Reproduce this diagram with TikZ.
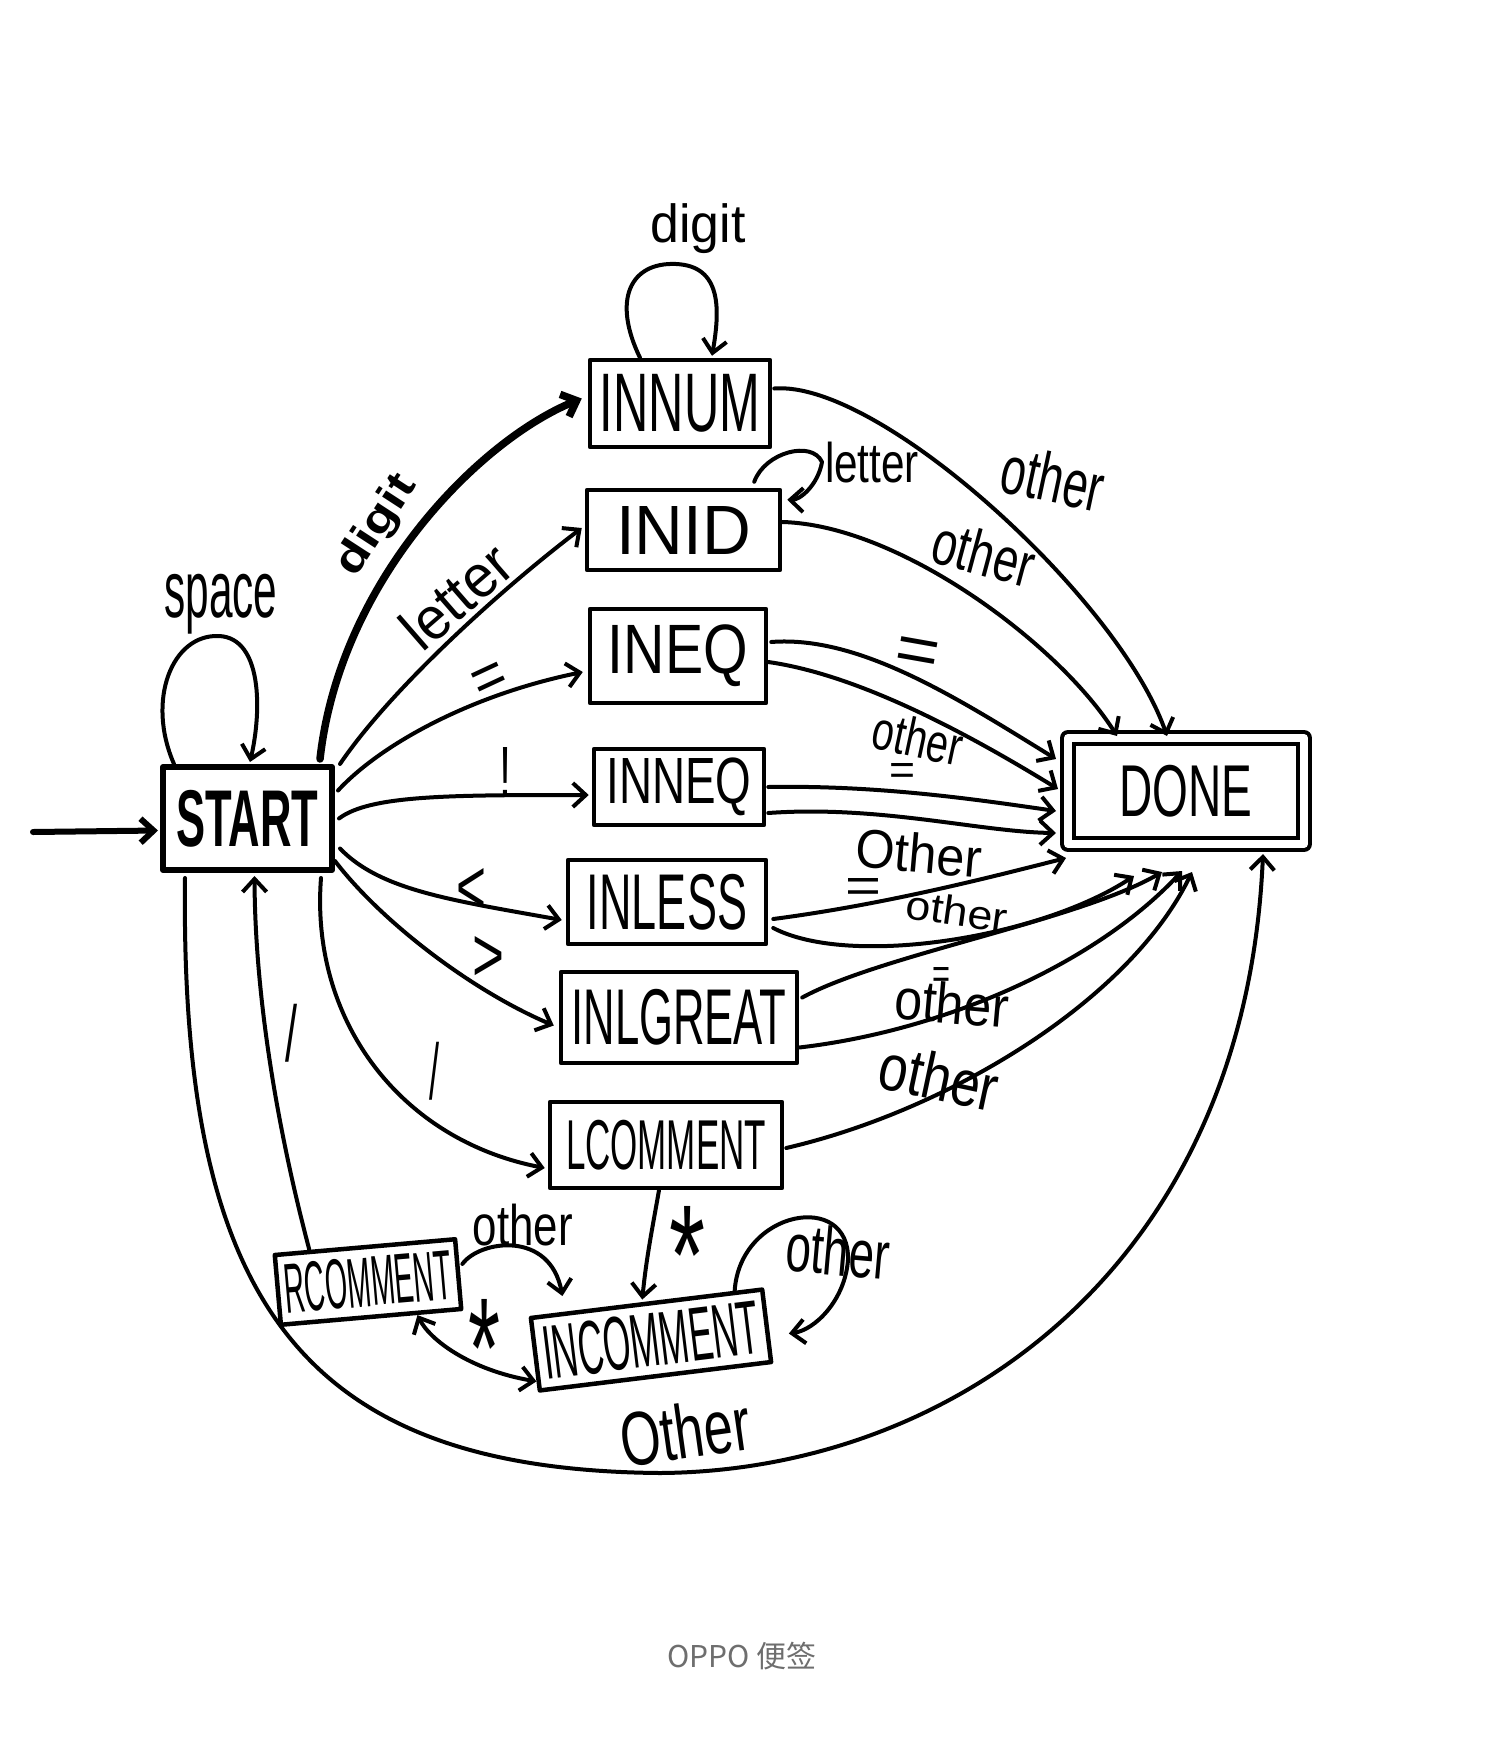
\documentclass[tikz,border=0pt]{standalone}
\usepackage{fontspec}
\usepackage{graphicx}
\setmainfont{Liberation Sans}
\newfontfamily\cjkfont{Noto Sans CJK SC}
\usetikzlibrary{arrows.meta,calc}
\newcommand{\hw}[3]{\resizebox*{#1pt}{#2pt}{#3}}
\definecolor{footgray}{HTML}{6E6E6E}
\begin{document}
\begin{tikzpicture}[x=1pt,y=-1pt,
  box/.style={draw,line width=4.5pt,inner sep=0pt,line join=round},
  lab/.style={inner sep=0pt},
  link/.style={line width=4pt,line cap=round,line join=round,-{Straight Barb[length=13pt,width=24pt]}},
  bilink/.style={line width=4pt,line cap=round,line join=round,{Straight Barb[length=13pt,width=24pt]}-{Straight Barb[length=13pt,width=24pt]}},
  heavy/.style={link,line width=7.5pt},
]
\fill[white] (0,0) rectangle (1484,1737);
\useasboundingbox (0,0) rectangle (1484,1737);

% states
\node[box,line width=6pt,minimum width=169pt,minimum height=103pt] (start) at (247.5,818.5) {\hw{142}{57}{\bfseries START}};
\node[box,minimum width=180pt,minimum height=87pt] (innum) at (680,403.5) {\hw{160}{58}{INNUM}};
\node[box,minimum width=193pt,minimum height=80pt] (inid) at (683.5,530) {\hw{135}{48}{INID}};
\node[box,minimum width=176pt,minimum height=94pt] (ineq) at (678,656) {\hw{140}{62}{INEQ}};
\node[box,minimum width=170pt,minimum height=76pt] (inneq) at (679,787) {\hw{145}{58}{INNEQ}};
\node[box,minimum width=198pt,minimum height=84pt] (inless) at (667,902) {\hw{160}{56}{INLESS}};
\node[box,minimum width=236pt,minimum height=91pt] (inlgreat) at (679,1017.5) {\hw{215}{56}{INLGREAT}};
\node[box,minimum width=232pt,minimum height=86pt] (lcomment) at (666,1145) {\hw{200}{50}{LCOMMENT}};
\node[box,minimum width=181pt,minimum height=70pt,rotate=5] (rcomment) at (368,1282) {\hw{168}{50}{RCOMMENT}};
\node[box,minimum width=233pt,minimum height=73pt,rotate=7] (incomment) at (651,1340) {\hw{218}{54}{INCOMMENT}};
\node[box,double,double distance=8pt,line width=4pt,minimum width=236pt,minimum height=106pt] (done) at (1186,791) {\hw{133}{52}{DONE}};

% labels
\node[lab] (lspace) at (221,604) {\hw{113}{60}{space}};
\node[lab,rotate=57] (ldigit) at (377,526) {\hw{112}{40}{\bfseries digit}};
\node[lab,rotate=41] (lletter) at (456,596) {\hw{126}{44}{letter}};
\node[lab,rotate=25,anchor=north] (leqa) at (484,668) {\hw{34}{30}{=}};
\node[lab] (lneq) at (505,772) {\hw{12}{50}{!}};
\node[lab,anchor=north] (lless) at (471,868) {\hw{30}{45}{<}};
\node[lab,anchor=north] (lgreat) at (488,936) {\hw{32}{45}{>}};
\node[lab] (lslasha) at (434,1071) {\hw{10}{58}{/}};
\node[lab] (lslashb) at (291,1033) {\hw{12}{58}{/}};
\node[lab] (ldigitb) at (698,229) {\hw{95}{50}{digit}};
\node[lab] (lletterb) at (872,463) {\hw{94}{41}{letter}};
\node[lab,rotate=-12] (loa) at (1053,478) {\hw{103}{50}{other}};
\node[lab,rotate=-15] (lob) at (984,553) {\hw{103}{46}{other}};
\node[lab,rotate=-10,anchor=north] (leqb) at (920,640) {\hw{44}{33}{=}};
\node[lab,rotate=-12] (loc) at (918,738) {\hw{90}{40}{other}};
\node[lab,anchor=north] (leqc) at (902,763) {\hw{26}{21}{=}};
\node[lab,rotate=-5] (lod) at (919,853) {\hw{126}{40}{Other}};
\node[lab,anchor=north] (leqd) at (863,878) {\hw{36}{24}{=}};
\node[lab,rotate=-8] (loe) at (957,911) {\hw{102}{30}{other}};
\node[lab,anchor=north] (leqe) at (941,967) {\hw{18}{21}{=}};
\node[lab,rotate=-5] (lof) at (952,1003) {\hw{114}{42}{other}};
\node[lab,rotate=-12] (log) at (939,1077) {\hw{120}{48}{other}};
\node[lab,anchor=north] (lstara) at (687,1206) {\hw{36}{98}{*}};
\node[lab] (loh) at (523,1225) {\hw{100}{42}{other}};
\node[lab,rotate=-5] (loi) at (838,1251) {\hw{104}{50}{other}};
\node[lab,anchor=north] (lstarb) at (484,1299) {\hw{32}{98}{*}};
\node[lab,rotate=8] (loj) at (685,1431) {\hw{130}{56}{Other}};
\node[lab] (footer) at (742,1656) {\cjkfont\fontsize{30pt}{36pt}\selectfont\color{footgray}OPPO 便签};

% entry
\coordinate (entry) at (33,832);
\draw[link,line width=6pt] (entry) -- ($(start.west)+(-2,12)$);

% from START
\draw[link] ($(start.north west)+(14,0)$) .. controls (146,700) and (172,634) .. (219,636) .. controls (262,638) and (262,710) .. ($(start.north west)+(90,-2)$);
\draw[heavy] ($(start.north east)+(-15,-5)$) .. controls (340,580) and (480,440) .. ($(innum.west)+(-6,-5)$);
\draw[link] ($(start.north east)+(5,0)$) .. controls (390,690) and (500,590) .. ($(inid.west)+(-3,-2)$);
\draw[link] ($(start.east)+(3,-28)$) .. controls (380,745) and (470,695) .. ($(ineq.west)+(-5,16)$);
\draw[link] ($(start.east)+(4,0)$) .. controls (370,795) and (450,795) .. ($(inneq.west)+(-3,8)$);
\draw[link] ($(start.east)+(5,30)$) .. controls (380,890) and (450,900) .. ($(inless.west)+(-4,18)$);
\draw[link] ($(start.south east)+(0,-12)$) .. controls (380,920) and (470,990) .. ($(inlgreat.west)+(-5,8)$);
\draw[link] ($(start.south east)+(-14,5)$) .. controls (310,1020) and (400,1140) .. ($(lcomment.west)+(-3,23)$);
\draw[link] ($(rcomment.north west)!0.2!(rcomment.north east)$) .. controls (275,1120) and (255,990) .. ($(start.south)+(7,3)$);
\draw[link] ($(start.south west)+(25,5)$) .. controls (180,1300) and (300,1470) .. (660,1473) .. controls (950,1471) and (1245,1270) .. ($(done.south)+(77,8)$);

% self loops
\draw[link] ($(innum.north)+(-40,0)$) .. controls (612,300) and (630,262) .. (676,264) .. controls (722,266) and (720,310) .. ($(innum.north)+(32,-2)$);
\draw[link] ($(inid.north east)+(-28,-6)$) .. controls (765,452) and (812,440) .. (822,462) .. controls (818,485) and (800,500) .. ($(inid.north east)+(5,12)$);

% to DONE
\draw[link] ($(innum.east)+(2,-15)$) .. controls (880,380) and (1120,600) .. ($(done.north)+(-19,0)$);
\draw[link] ($(inid.east)+(0,-8)$) .. controls (900,525) and (1060,645) .. ($(done.north)+(-69,0)$);
\draw[link] ($(ineq.east)+(3,-14)$) .. controls (860,635) and (960,700) .. ($(done.west)+(-10,-32)$);
\draw[link] ($(ineq.east)+(0,6)$) .. controls (860,675) and (970,735) .. ($(done.west)+(-8,-2)$);
\draw[link] ($(inneq.east)+(2,0)$) .. controls (880,785) and (980,800) .. ($(done.west)+(-10,20)$);
\draw[link] ($(inneq.east)+(2,26)$) .. controls (880,805) and (980,832) .. ($(done.west)+(-10,42)$);
\draw[link] ($(inless.east)+(5,17)$) .. controls (880,905) and (980,880) .. ($(done.south west)+(0,12)$);
\draw[link] ($(inless.east)+(5,26)$) .. controls (850,968) and (1040,938) .. ($(done.south)+(-52,30)$);
\draw[link] ($(inlgreat.east)+(3,-20)$) .. controls (880,955) and (1080,920) .. ($(done.south)+(-24,26)$);
\draw[link] ($(inlgreat.east)+(0,30)$) .. controls (950,1030) and (1100,960) .. ($(done.south)+(-4,25)$);
\draw[link] ($(lcomment.east)+(2,3)$) .. controls (950,1110) and (1130,1000) .. ($(done.south)+(6,26)$);

% comments
\draw[link] ($(lcomment.south)+(-7,0)$) .. controls (652,1230) and (646,1260) .. ($(incomment.north)+(-4,-2)$);
\draw[link] ($(incomment.north)!0.75!(incomment.north east)$) .. controls (740,1210) and (850,1190) .. (848,1260) .. controls (845,1300) and (815,1330) .. ($(incomment.east)+(20,8)$);
\draw[link] ($(rcomment.east)+(2,-10)$) .. controls (480,1240) and (550,1230) .. ($(incomment.north west)+(34,-20)$);
\draw[bilink] ($(incomment.west)!0.7!(incomment.south west)$) .. controls (470,1370) and (430,1340) .. ($(rcomment.south)!0.5!(rcomment.south east)$);
\end{tikzpicture}
\end{document}
